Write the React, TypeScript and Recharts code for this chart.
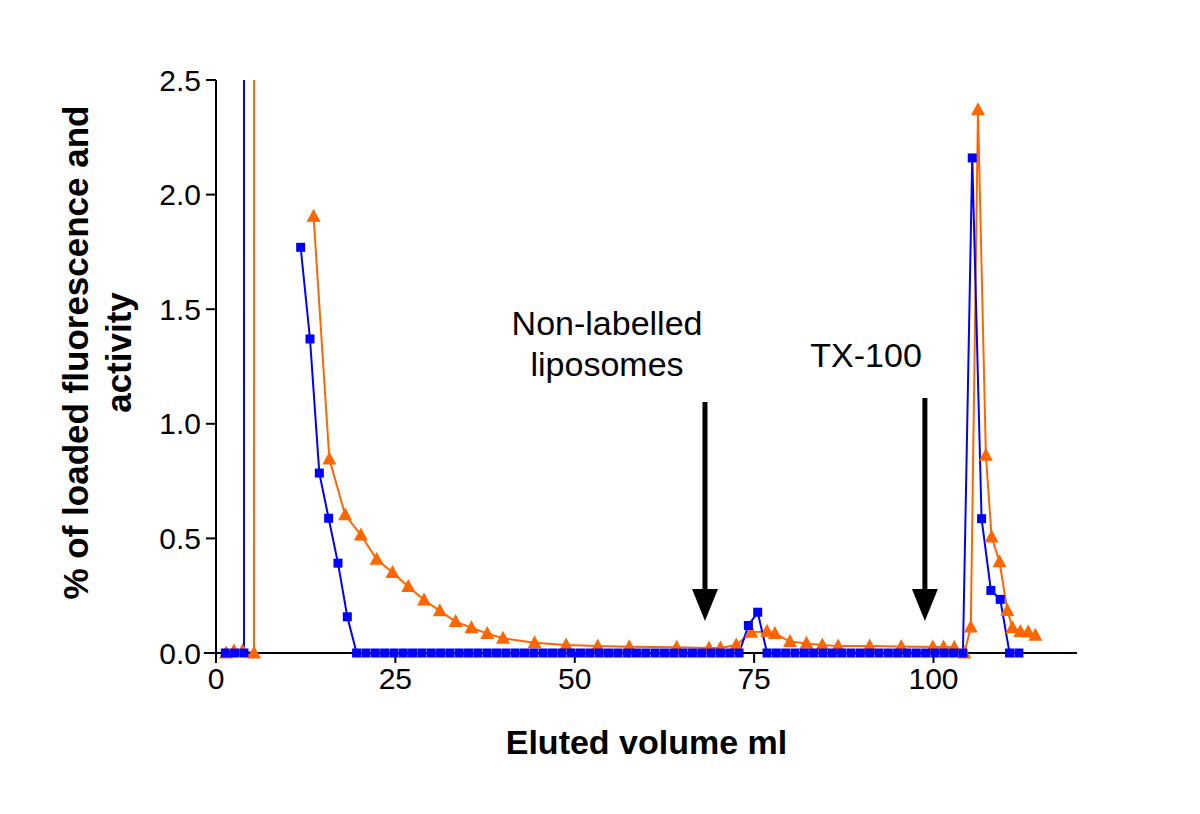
import { LineChart, Line, XAxis, YAxis, ReferenceLine, ReferenceDot } from "recharts";

// fraction volumes (ml) and signal
const blueVolume = [
  1.3, 2.6, 3.9, 4.0, 7.8, 11.8, 13.1, 14.4, 15.7, 17.0, 18.3, 19.6, 20.9, 22.2, 23.5, 24.8,
  26.1, 27.4, 28.7, 30.0, 31.3, 32.6, 33.9, 35.2, 36.5, 37.8, 39.1, 40.4, 41.7, 43.0, 44.3,
  45.6, 46.9, 48.2, 49.5, 50.8, 52.1, 53.4, 54.7, 56.0, 57.3, 58.6, 59.9, 61.2, 62.5, 63.8,
  65.1, 66.4, 67.7, 69.0, 70.3, 71.6, 72.9, 74.2, 75.5, 76.8, 78.1, 79.4, 80.7, 82.0, 83.3,
  84.6, 85.9, 87.2, 88.5, 89.8, 91.1, 92.4, 93.7, 95.0, 96.3, 97.6, 98.9, 100.2, 101.5,
  102.8, 104.1, 105.4, 106.7, 108.0, 109.3, 110.6, 111.9,
];
const blueSignal = [
  0, 0, 0, 40, null, 1.77, 1.37, 0.785, 0.588, 0.392, 0.158, 0, 0, 0, 0, 0,
  0, 0, 0, 0, 0, 0, 0, 0, 0, 0, 0, 0, 0, 0, 0,
  0, 0, 0, 0, 0, 0, 0, 0, 0, 0, 0, 0, 0, 0, 0,
  0, 0, 0, 0, 0, 0, 0, 0.12, 0.178, 0, 0, 0, 0, 0, 0,
  0, 0, 0, 0, 0, 0, 0, 0, 0, 0, 0, 0, 0, 0,
  0, 0, 2.16, 0.586, 0.273, 0.234, 0, 0,
];

const orangeVolume = [
  1.4, 2.5, 3.7, 5.3, 5.35, 9.5, 13.6, 15.8, 18.0, 20.2, 22.4, 24.6, 26.8, 29.0, 31.2, 33.4,
  35.6, 37.8, 40.0, 44.4, 48.8, 53.2, 57.6, 64.2, 68.7, 70.3, 72.5, 74.6, 76.8, 77.9, 80.0,
  82.3, 84.5, 86.7, 91.1, 95.5, 99.9, 101.4, 102.9, 104.3, 105.2, 106.2, 107.3, 108.1, 109.2,
  110.3, 111.0, 112.1, 113.2, 114.2,
];
const orangeSignal = [
  0, 0.01, 0.01, 0, 40, null, 1.905, 0.846, 0.603, 0.515, 0.409, 0.351, 0.29, 0.231, 0.184, 0.137,
  0.11, 0.085, 0.064, 0.045, 0.035, 0.03, 0.027, 0.025, 0.022, 0.022, 0.035, 0.09, 0.095, 0.085, 0.05,
  0.042, 0.035, 0.03, 0.03, 0.028, 0.026, 0.026, 0.025, 0, 0.113, 2.37, 0.863, 0.506, 0.398,
  0.185, 0.11, 0.094, 0.092, 0.077,
];

const xTicks = [0, 25, 50, 75, 100];
const yTicks = [0, 0.5, 1.0, 1.5, 2.0, 2.5];

const BLUE = "#0000ff";
const ORANGE = "#ff6600";
const FONT = "'Liberation Sans', Arial, sans-serif";

type Pt = { x: number; y: number | null };
const toPoints = (xs: number[], ys: (number | null)[]): Pt[] => xs.map((x, i) => ({ x, y: ys[i] }));
const blueData = toPoints(blueVolume, blueSignal);
const orangeData = toPoints(orangeVolume, orangeSignal);
// only the on-scale points carry a marker
const blueMarks = blueData.filter((p) => p.y !== null && p.y <= 2.5);
const orangeMarks = orangeData.filter((p) => p.y !== null && p.y <= 2.5);

function Square(props: any) {
  const { cx, cy, index } = props;
  if (cx == null || cy == null) return <g key={`s${index}`} />;
  return <rect key={`s${index}`} x={cx - 4.5} y={cy - 4.5} width={9} height={9} fill={BLUE} />;
}

function Triangle(props: any) {
  const { cx, cy, index } = props;
  if (cx == null || cy == null) return <g key={`t${index}`} />;
  return (
    <polygon
      key={`t${index}`}
      points={`${cx},${cy - 7.5} ${cx - 7},${cy + 5.5} ${cx + 7},${cy + 5.5}`}
      fill={ORANGE}
    />
  );
}

function ArrowHead(props: any) {
  const { cx, cy } = props;
  return <polygon points={`${cx},${cy} ${cx - 13},${cy - 32} ${cx + 13},${cy - 32}`} fill="#000" />;
}

function Note({ cx, cy, lines }: any) {
  const gap = 41;
  const start = cy - ((lines.length - 1) * gap) / 2;
  return (
    <g>
      {lines.map((t: string, i: number) => (
        <text
          key={t}
          x={cx}
          y={start + i * gap}
          textAnchor="middle"
          dominantBaseline="central"
          fontFamily={FONT}
          fontSize={34}
          fill="#000"
        >
          {t}
        </text>
      ))}
    </g>
  );
}

const yTitle = (props: any) => {
  const vb = props.viewBox;
  const cy = vb.y + vb.height / 2 - 14;
  const rows = ["% of loaded fluorescence and", "activity"];
  const xs = [vb.x - 61, vb.x - 18];
  return (
    <g>
      {rows.map((t, i) => (
        <text
          key={t}
          x={xs[i]}
          y={cy}
          transform={`rotate(-90, ${xs[i]}, ${cy})`}
          textAnchor="middle"
          dominantBaseline="central"
          fontFamily={FONT}
          fontWeight="bold"
          fontSize={35}
          fill="#000"
        >
          {t}
        </text>
      ))}
    </g>
  );
};

const xTitle = (props: any) => {
  const vb = props.viewBox;
  return (
    <text
      x={vb.x + vb.width / 2}
      y={vb.y + 89}
      textAnchor="middle"
      dominantBaseline="central"
      fontFamily={FONT}
      fontWeight="bold"
      fontSize={34}
      fill="#000"
    >
      Eluted volume ml
    </text>
  );
};

const axisStroke = { stroke: "#000", strokeWidth: 2 };
const tickStyle = { fill: "#000", fontSize: 30, fontFamily: FONT };

export default function App() {
  return (
    <div style={{ position: "absolute", left: 0, top: 0, width: 1200, height: 814, background: "#fff" }}>
      <LineChart width={1200} height={814} margin={{ top: 80, right: 123, bottom: 101, left: 136 }}>
        <XAxis
          type="number"
          dataKey="x"
          domain={[0, 120]}
          ticks={xTicks}
          height={60}
          axisLine={axisStroke}
          tickLine={axisStroke}
          tickSize={10}
          tickMargin={5}
          tick={tickStyle}
          label={{ content: xTitle }}
        />
        <YAxis
          yAxisId="axis"
          type="number"
          domain={[0, 2.5]}
          ticks={yTicks}
          tickFormatter={(v: number) => v.toFixed(1)}
          width={80}
          axisLine={axisStroke}
          tickLine={axisStroke}
          tickSize={10}
          tickMargin={5}
          tick={tickStyle}
          label={{ content: yTitle }}
        />
        <YAxis yAxisId="clip" hide type="number" domain={[0, 2.5]} allowDataOverflow />

        <ReferenceLine yAxisId="axis" segment={[{ x: -1.7, y: 0 }, { x: 0, y: 0 }]} ifOverflow="visible" {...axisStroke} />
        <ReferenceLine yAxisId="axis" segment={[{ x: 0, y: 0 }, { x: 0, y: -0.013 }]} ifOverflow="visible" {...axisStroke} />

        <Line yAxisId="clip" data={orangeData} dataKey="y" stroke={ORANGE} strokeWidth={2} dot={false} activeDot={false} isAnimationActive={false} />
        <Line yAxisId="axis" data={orangeMarks} dataKey="y" stroke="none" dot={Triangle} activeDot={false} isAnimationActive={false} />
        <Line yAxisId="clip" data={blueData} dataKey="y" stroke={BLUE} strokeWidth={2} dot={false} activeDot={false} isAnimationActive={false} />
        <Line yAxisId="axis" data={blueMarks} dataKey="y" stroke="none" dot={Square} activeDot={false} isAnimationActive={false} />

        <ReferenceLine yAxisId="axis" segment={[{ x: 68.15, y: 1.095 }, { x: 68.15, y: 0.26 }]} stroke="#000" strokeWidth={5} />
        <ReferenceDot yAxisId="axis" x={68.15} y={0.14} shape={ArrowHead} />
        <ReferenceLine yAxisId="axis" segment={[{ x: 98.8, y: 1.113 }, { x: 98.8, y: 0.26 }]} stroke="#000" strokeWidth={5} />
        <ReferenceDot yAxisId="axis" x={98.8} y={0.14} shape={ArrowHead} />

        <ReferenceDot yAxisId="axis" x={54.5} y={1.35} shape={(p: any) => <Note {...p} lines={["Non-labelled", "liposomes"]} />} />
        <ReferenceDot yAxisId="axis" x={90.6} y={1.3} shape={(p: any) => <Note {...p} lines={["TX-100"]} />} />
      </LineChart>
    </div>
  );
}
